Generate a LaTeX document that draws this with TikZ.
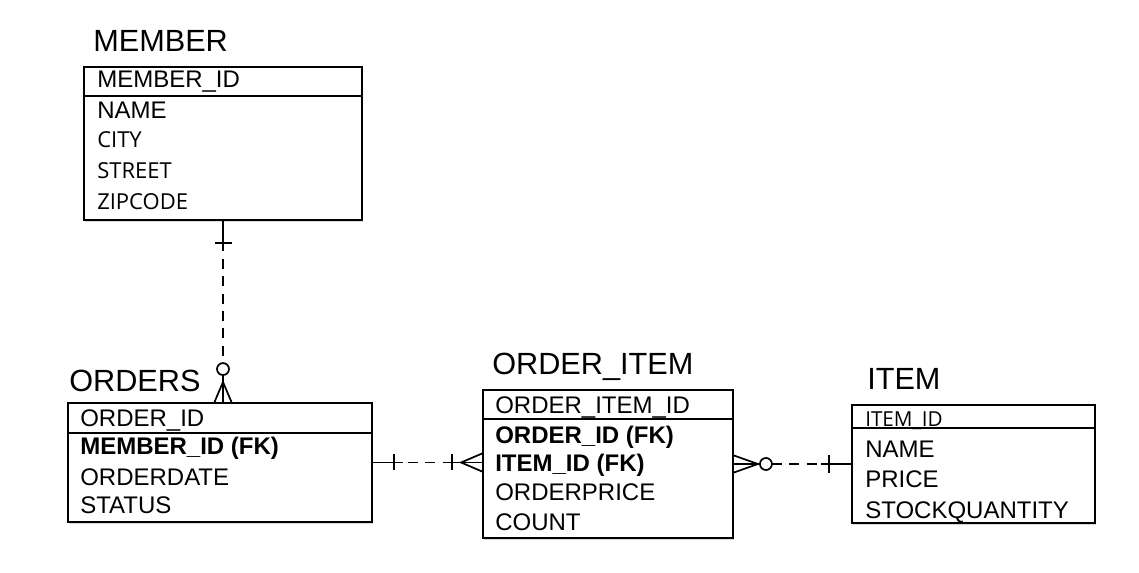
\documentclass[tikz,border=0pt]{standalone}
\usepackage{fontspec}
\setmainfont{Liberation Sans}
\newfontfamily\opensans{Open Sans}
\usetikzlibrary{calc,fit,shadows}
\tikzset{
  tablebox/.style={draw=black, line width=1.4pt, fill=white, inner sep=0pt,
    drop shadow={shadow xshift=0.9pt, shadow yshift=-1.4pt, opacity=0.3}},
  headline/.style={draw=black, line width=1.3pt},
  tabletitle/.style={anchor=base west, inner sep=0pt, font=\fontsize{23}{27}\selectfont},
  fieldtext/.style={anchor=base west, inner sep=0pt, font=\fontsize{18}{21}\selectfont},
  keytext/.style={fieldtext, font=\fontsize{18}{21}\selectfont\bfseries},
  softtext/.style={anchor=base west, inner sep=0pt, font=\opensans\fontsize{16.5}{20}\selectfont},
  relline/.style={draw=black, line width=1.3pt},
  reldash/.style={relline, dash pattern=on 7.5pt off 5.5pt},
}

\begin{document}
\begin{tikzpicture}[x=0.75pt, y=-0.75pt]
\useasboundingbox (0,0) rectangle (1139,573);
% tables
\node[tablebox, fit={(84,67) (362,220)}] (member) {};
\node[tablebox, fit={(68,403) (372,522)}] (orders) {};
\node[tablebox, fit={(483,390) (733,538)}] (oitem) {};
\node[tablebox, fit={(852,405) (1095,523)}] (item) {};
\draw[headline] (84,96) -- (362,96);
\draw[headline] (68,433) -- (372,433);
\draw[headline] (483,419) -- (733,419);
\draw[headline] (852,428) -- (1095,428);
% titles
\node[tabletitle] (member-title) at (93,52) {MEMBER};
\node[tabletitle] (orders-title) at (69,392) {ORDERS};
\node[tabletitle] (oitem-title) at (492,375) {ORDER\_ITEM};
\node[tabletitle] (item-title) at (867,390) {ITEM};
% member fields
\node[fieldtext] (member-id) at (97,88) {MEMBER\_ID};
\node[fieldtext] (member-name) at (97,119) {NAME};
\node[softtext] (member-city) at (97,148) {CITY};
\node[softtext] (member-street) at (97,179) {STREET};
\node[softtext] (member-zip) at (97,210) {ZIPCODE};
% orders fields
\node[fieldtext] (orders-id) at (80,427) {ORDER\_ID};
\node[keytext] (orders-member) at (80,455) {MEMBER\_ID (FK)};
\node[fieldtext] (orders-date) at (80,485) {ORDERDATE};
\node[fieldtext] (orders-status) at (80,513) {STATUS};
% order_item fields
\node[fieldtext] (oitem-id) at (495,414) {ORDER\_ITEM\_ID};
\node[keytext] (oitem-order) at (495,444) {ORDER\_ID (FK)};
\node[keytext] (oitem-item) at (495,472) {ITEM\_ID (FK)};
\node[fieldtext] (oitem-price) at (495,500) {ORDERPRICE};
\node[fieldtext] (oitem-count) at (495,530) {COUNT};
% item fields
\node[softtext, font=\opensans\fontsize{15.5}{18}\selectfont] (item-id) at (865,427) {ITEM\_ID};
\node[fieldtext] (item-name) at (865,458) {NAME};
\node[fieldtext] (item-price) at (865,488) {PRICE};
\node[fieldtext] (item-stock) at (865,518) {STOCKQUANTITY};
% member -- orders
\coordinate (mo) at (member.south |- orders.north);
\draw[relline] (member.south) -- ($(member.south)+(0,30)$);
\draw[relline] ($(member.south)+(-8.5,22)$) -- ($(member.south)+(8.5,22)$);
\draw[reldash] ($(member.south)+(0,38)$) -- ($(mo)+(0,-39)$);
\draw[relline] ($(mo)+(0,-33)$) circle[radius=4.5pt];
\draw[relline] ($(mo)+(0,-27)$) -- (mo);
\draw[relline] ($(mo)+(-8.5,0)$) -- ($(mo)+(0,-20)$) -- ($(mo)+(8.5,0)$);
% orders -- order_item
\coordinate (oo) at (orders.east -| oitem.west);
\draw[relline] (orders.east) -- ($(orders.east)+(30,0)$);
\draw[relline] ($(orders.east)+(21,-8)$) -- ($(orders.east)+(21,8)$);
\draw[reldash] ($(orders.east)+(35,0)$) -- ($(oo)+(-38,0)$);
\draw[relline] ($(oo)+(-38,0)$) -- (oo);
\draw[relline] ($(oo)+(-30,-8)$) -- ($(oo)+(-30,8)$);
\draw[relline] ($(oo)+(0,-9)$) -- ($(oo)+(-21,0)$) -- ($(oo)+(0,9)$);
% order_item -- item
\coordinate (oi) at (oitem.east -| item.west);
\draw[relline] (oitem.east) -- ($(oitem.east)+(26,0)$);
\draw[relline] ($(oitem.east)+(0,-8.5)$) -- ($(oitem.east)+(24,0)$) -- ($(oitem.east)+(0,8.5)$);
\draw[relline] ($(oitem.east)+(32,0)$) circle[radius=4.5pt];
\draw[reldash] ($(oitem.east)+(38,0)$) -- ($(oi)+(-30,0)$);
\draw[relline] ($(oi)+(-30,0)$) -- (oi);
\draw[relline] ($(oi)+(-22,-9)$) -- ($(oi)+(-22,9)$);
\end{tikzpicture}
\end{document}
